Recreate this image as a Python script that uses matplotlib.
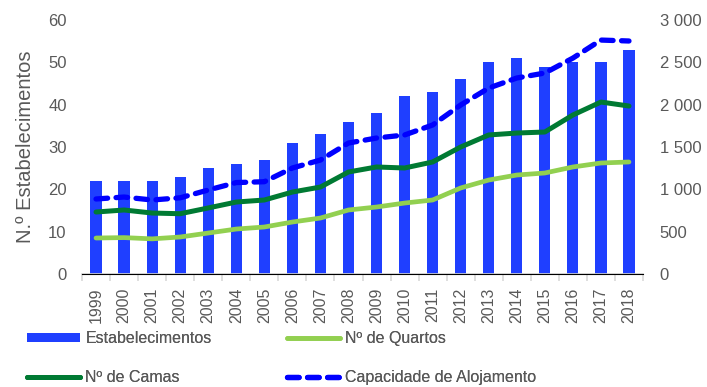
import matplotlib
matplotlib.use("Agg")
import matplotlib.pyplot as plt
from matplotlib.lines import Line2D
from matplotlib.patches import Patch
from matplotlib.ticker import FuncFormatter

plt.rcParams['font.family'] = ['Liberation Sans', 'DejaVu Sans']

years = [str(y) for y in range(1999, 2019)]
estabelecimentos = [22, 22, 22, 23, 25, 26, 27, 31, 33, 36, 38, 42, 43, 46, 50, 51, 49, 50, 50, 53]
quartos = [425, 430, 415, 437, 484, 531, 555, 614, 661, 756, 791, 838, 874, 1016, 1110, 1169, 1193, 1264, 1311, 1323]
camas = [732, 756, 720, 712, 780, 850, 874, 968, 1027, 1205, 1264, 1252, 1323, 1500, 1642, 1665, 1677, 1878, 2031, 1984]
capacidade = [886, 909, 874, 900, 992, 1080, 1090, 1252, 1346, 1547, 1606, 1642, 1760, 1996, 2196, 2315, 2374, 2550, 2763, 2752]

GRAY = '#595959'
BAR = '#1f3fff'
LIGHT = '#92d050'
DARK = '#007a33'
DASH = '#0000ff'

W, H = 707, 387
fig = plt.figure(figsize=(W / 100, H / 100), dpi=100)
ax = fig.add_axes([82 / W, (H - 274) / H, (643 - 82) / W, 254 / H])
ax2 = ax.twinx()

x = list(range(len(years)))
ax.bar(x, estabelecimentos, width=0.4, color=BAR, zorder=2)
ax.set_ylim(0, 60)
ax.set_xlim(-0.5, len(years) - 0.5)
ax.set_yticks(range(0, 61, 10))

ax2.plot(x, quartos, color=LIGHT, lw=3.4, solid_capstyle='round', zorder=3)
ax2.plot(x, camas, color=DARK, lw=3.6, solid_capstyle='round', zorder=3)
ax2.plot(x, capacidade, color=DASH, lw=3.8, dashes=(2.2, 1.6), dash_capstyle='round', zorder=4)
ax2.set_ylim(0, 3000)
ax2.set_yticks(range(0, 3001, 500))
ax2.yaxis.set_major_formatter(FuncFormatter(lambda v, p: f"{int(v):,}".replace(",", " ")))

for a in (ax, ax2):
    for s in ('top', 'left', 'right'):
        a.spines[s].set_visible(False)
    a.tick_params(axis='y', length=0, labelsize=12, labelcolor=GRAY)
ax.tick_params(axis='y', pad=11)
ax2.tick_params(axis='y', pad=12)
ax.spines['bottom'].set_color('#d9d9d9')
ax.spines['bottom'].set_linewidth(1.2)

ax.set_xticks(x)
ax.set_xticklabels(years, rotation=90, fontsize=11.5, color=GRAY)
ax.tick_params(axis='x', length=0, pad=10)
ax.set_xticks([i - 0.5 for i in range(len(years) + 1)], minor=True)
ax.tick_params(axis='x', which='minor', length=5, color='#d9d9d9', width=1.2)

ax.set_ylabel('N.º Estabelecimentos', fontsize=14.5, color=GRAY)
ax.yaxis.set_label_coords(-0.084, 0.5)

# legend: two columns, each anchored at its own x position
col1 = ([Patch(facecolor=BAR, edgecolor='none'),
         Line2D([], [], color=DARK, lw=3.6, solid_capstyle='round')],
        ['Estabelecimentos', 'Nº de Camas'], 27)
col2 = ([Line2D([], [], color=LIGHT, lw=3.4, solid_capstyle='round'),
         Line2D([], [], color=DASH, lw=3.8, dashes=(2.2, 1.6), dash_capstyle='round')],
        ['Nº de Quartos', 'Capacidade de Alojamento'], 287)
for hs, ls, x0 in (col1, col2):
    leg = fig.legend(hs, ls, ncol=1, loc='upper left',
                     bbox_to_anchor=(x0 / W, 1 - 331 / H), frameon=False,
                     fontsize=11.5, labelcolor=GRAY,
                     handlelength=3.3, handleheight=0.55,
                     handletextpad=0.35, labelspacing=1.5,
                     borderaxespad=0, borderpad=0)
    fig.add_artist(leg)

fig.savefig('out.png', dpi=100)
